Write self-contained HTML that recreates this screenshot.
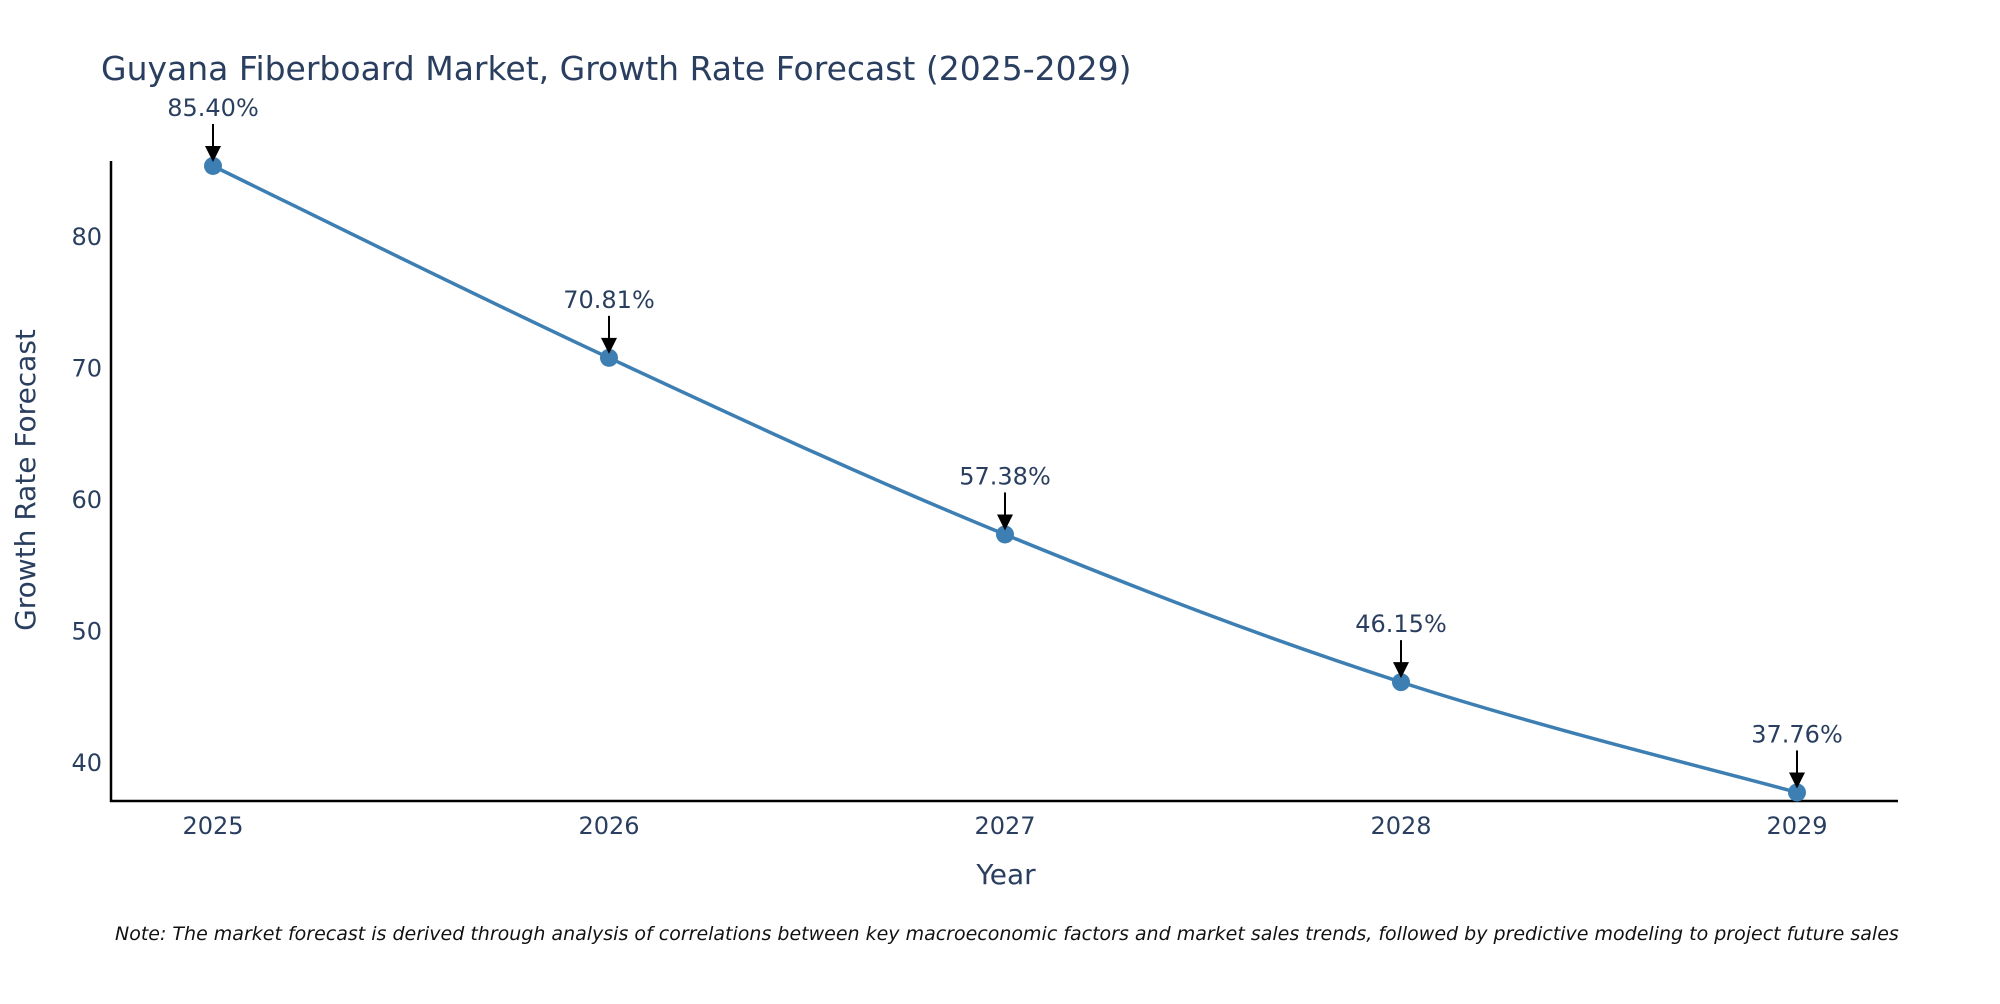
<!DOCTYPE html>
<html><head><meta charset="utf-8">
<style>
body{margin:0;background:#fff;font-family:"DejaVu Sans",sans-serif;}
svg text{font-family:"DejaVu Sans",sans-serif;fill:#2a3f5f;}
</style></head>
<body>
<svg id="chart" width="2000" height="1000" xmlns="http://www.w3.org/2000/svg">
<rect width="2000" height="1000" fill="#fff"/>
<text x="101" y="80" font-size="33">Guyana Fiberboard Market, Growth Rate Forecast (2025-2029)</text>
<g id="yticks"></g><g id="xticks"></g>
<line x1="111" y1="161" x2="111" y2="802" stroke="#000" stroke-width="2.5"/>
<line x1="110" y1="801" x2="1898" y2="801" stroke="#000" stroke-width="2.5"/>
<path id="line" fill="none" stroke="#3d7fb3" stroke-width="3.5"/>
<g id="marks"></g>
<text x="1006" y="884" font-size="28" text-anchor="middle">Year</text>
<text transform="translate(35,480) rotate(-90)" font-size="28" text-anchor="middle">Growth Rate Forecast</text>
<text x="115" y="940" font-size="19" font-style="italic" style="fill:#111">Note: The market forecast is derived through analysis of correlations between key macroeconomic factors and market sales trends, followed by predictive modeling to project future sales</text>
</svg>
<script>
const years=[2025,2026,2027,2028,2029];
const values=[85.40,70.81,57.38,46.15,37.76];
const labels=["85.40%","70.81%","57.38%","46.15%","37.76%"];
const yTicks=[40,50,60,70,80];
const NS="http://www.w3.org/2000/svg";
function xs(y){return 213+(y-2025)*(1797-213)/4;}
function ys(v){return 763-(v-40)*13.15;}
function mk(t,a,p){const e=document.createElementNS(NS,t);for(const k in a)e.setAttribute(k,a[k]);p.appendChild(e);return e;}
const yt=document.getElementById('yticks');
yTicks.forEach(v=>{const t=mk('text',{x:102,y:ys(v)+8,'font-size':24,'text-anchor':'end'},yt);t.textContent=v;

});
const xt=document.getElementById('xticks');
years.forEach(y=>{const t=mk('text',{x:xs(y),y:834,'font-size':24,'text-anchor':'middle'},xt);t.textContent=y;

});
const P=years.map((y,i)=>[xs(y),ys(values[i])]);
let d='M'+P[0][0]+','+P[0][1];
for(let i=0;i<P.length-1;i++){const p0=P[Math.max(i-1,0)],p1=P[i],p2=P[i+1],p3=P[Math.min(i+2,P.length-1)];const k=0.18;
d+=' C'+(p1[0]+(p2[0]-p0[0])*k)+','+(p1[1]+(p2[1]-p0[1])*k)+' '+(p2[0]-(p3[0]-p1[0])*k)+','+(p2[1]-(p3[1]-p1[1])*k)+' '+p2[0]+','+p2[1];}
document.getElementById('line').setAttribute('d',d);
const mg=document.getElementById('marks');
P.forEach((p,i)=>{
const c=mk('circle',{cx:p[0],cy:p[1],r:9,fill:'#3d7fb3'},mg);


const l=mk('line',{x1:p[0],y1:p[1]-42,x2:p[0],y2:p[1]-16,stroke:'#000','stroke-width':2},mg);


const a=mk('polygon',{points:(p[0]-8)+','+(p[1]-20)+' '+(p[0]+8)+','+(p[1]-20)+' '+p[0]+','+(p[1]-4),fill:'#000'},mg);


const t=mk('text',{x:p[0],y:p[1]-50,'font-size':24,'text-anchor':'middle'},mg);t.textContent=labels[i];


});
</script>
</body></html>
